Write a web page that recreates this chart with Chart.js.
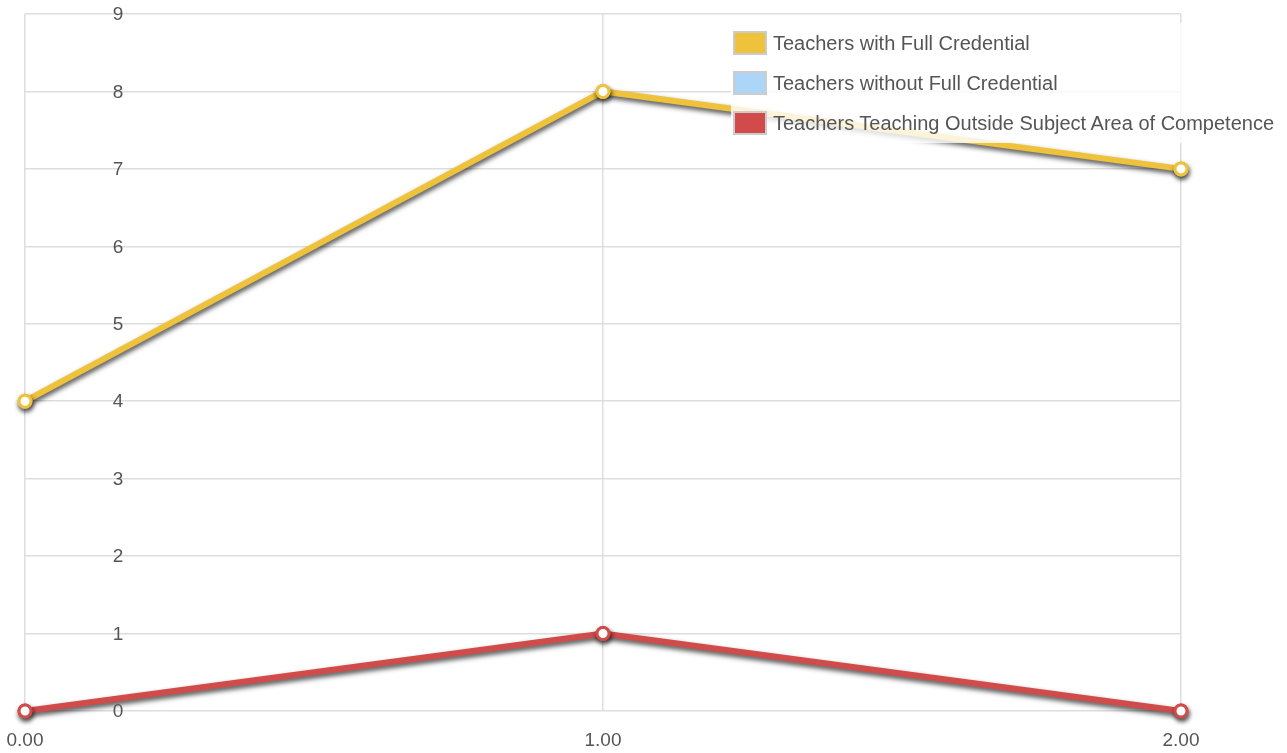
<!DOCTYPE html>
<html>
<head>
<meta charset="utf-8">
<script src="https://cdn.jsdelivr.net/npm/chart.js@4.4.1/dist/chart.umd.min.js"></script>
<style>
  html, body { margin: 0; padding: 0; background: #fff; }
  #wrap { position: relative; width: 1287px; height: 753px; }
  #legend {
    position: absolute; left: 731px; top: 23px;
    background: rgba(255, 255, 255, 0.8);
    font-family: "Liberation Sans", Arial, sans-serif; font-size: 20px; color: #555;
    padding: 0 4px 0 2px;
  }
  #legend .item { display: flex; align-items: center; height: 40px; white-space: nowrap; }
  #legend .box {
    width: 30px; height: 20px; border: 2px solid #ccc; margin-right: 6px;
    box-sizing: content-box;
  }
</style>
</head>
<body>
<div id="wrap">
  <canvas id="chart" width="1287" height="753" style="width:1287px;height:753px"></canvas>
  <div id="legend"></div>
</div>
<script>
  // x positions and series values
  const xValues = [0, 1, 2];
  const withFull = [4, 8, 7];
  const withoutFull = [null, null, null];
  const outsideSubject = [0, 1, 0];
  const seriesNames = [
    'Teachers with Full Credential',
    'Teachers without Full Credential',
    'Teachers Teaching Outside Subject Area of Competence'
  ];
  const seriesColors = ['#efc23c', '#acd6f8', '#d14b4b'];
  const seriesData = [withFull, withoutFull, outsideSubject];

  // legend (html overlay on top of the plot)
  const legendEl = document.getElementById('legend');
  seriesNames.forEach((name, i) => {
    const row = document.createElement('div');
    row.className = 'item';
    row.innerHTML = '<span class="box" style="background:' + seriesColors[i] + '"></span>' + name;
    legendEl.appendChild(row);
  });

  // drop shadow under lines, points redrawn clean on top
  const shadowPlugin = {
    id: 'lineShadow',
    beforeDatasetDraw(chart) {
      const ctx = chart.ctx;
      ctx.save();
      ctx.shadowColor = 'rgba(0,0,0,0.7)';
      ctx.shadowBlur = 5;
      ctx.shadowOffsetX = 1;
      ctx.shadowOffsetY = 3;
    },
    afterDatasetDraw(chart, args) {
      const ctx = chart.ctx;
      ctx.restore();
      args.meta.data.forEach((p) => p.draw(ctx, chart.chartArea));
    }
  };

  // y labels drawn inside the plot, a bit right of the left edge
  const yLabelPlugin = {
    id: 'yLabels',
    afterDraw(chart) {
      const ctx = chart.ctx;
      const y = chart.scales.y;
      ctx.save();
      ctx.fillStyle = '#555';
      ctx.font = '19px "Liberation Sans", Arial, sans-serif';
      ctx.textAlign = 'center';
      ctx.textBaseline = 'middle';
      y.ticks.forEach((t) => {
        ctx.fillText(String(t.value), chart.chartArea.left + 93, y.getPixelForValue(t.value) + 1);
      });
      ctx.restore();
    }
  };

  const datasets = seriesData.map((vals, i) => ({
    label: seriesNames[i],
    data: vals.map((v, j) => ({ x: xValues[j], y: v })),
    borderColor: seriesColors[i],
    backgroundColor: '#fff',
    borderWidth: 6,
    pointRadius: 6,
    pointBorderWidth: 3,
    pointBackgroundColor: '#fff',
    pointBorderColor: seriesColors[i],
    tension: 0,
    fill: false,
    clip: false,
    order: -i
  }));

  const ctx = document.getElementById('chart').getContext('2d');
  new Chart(ctx, {
    type: 'line',
    data: { datasets: datasets },
    options: {
      responsive: false,
      animation: false,
      layout: { padding: { left: 25, right: 106, top: 14, bottom: 0 } },
      plugins: {
        legend: { display: false },
        tooltip: { enabled: false }
      },
      scales: {
        x: {
          type: 'linear',
          min: 0,
          max: 2,
          afterFit: (s) => { s.height = 42; s.paddingLeft = 0; s.paddingRight = 0; },
          ticks: {
            stepSize: 1,
            color: '#555',
            font: { family: 'Liberation Sans', size: 19 },
            padding: 18,
            callback: (v) => v.toFixed(2)
          },
          grid: { color: '#ddd', lineWidth: 1.5, drawTicks: false },
          border: { display: false }
        },
        y: {
          min: 0,
          max: 9,
          afterFit: (s) => { s.width = 0; s.paddingTop = 0; s.paddingBottom = 0; },
          ticks: { stepSize: 1, display: false },
          grid: { color: '#ddd', lineWidth: 1.5, drawTicks: false },
          border: { display: false }
        }
      }
    },
    plugins: [shadowPlugin, yLabelPlugin]
  });
</script>
</body>
</html>
